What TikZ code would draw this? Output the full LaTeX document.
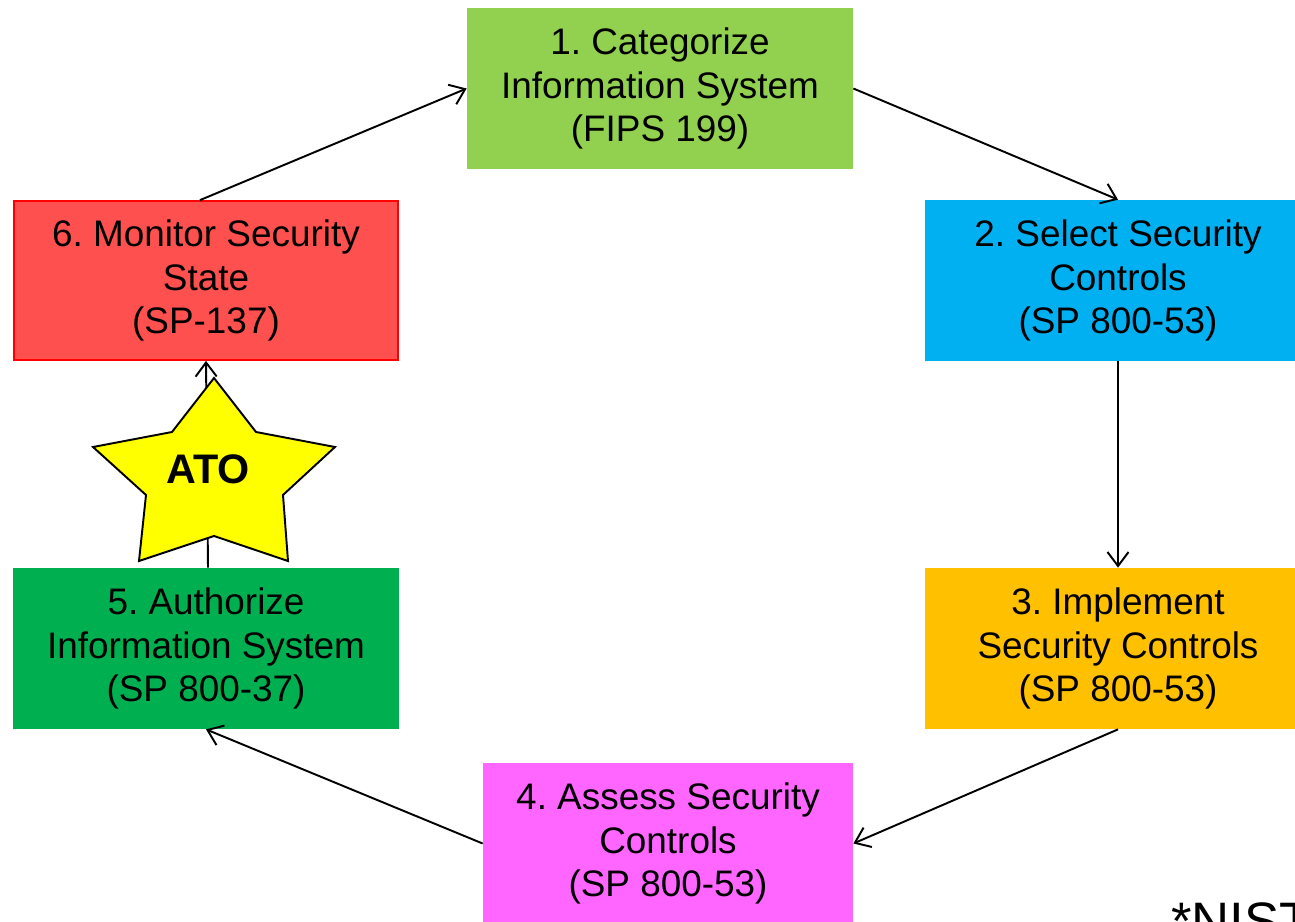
\documentclass[tikz,border=0pt]{standalone}
\usepackage{fontspec}
\setmainfont{Liberation Sans}
\usetikzlibrary{arrows.meta}
\frenchspacing
\definecolor{stepgreen}{HTML}{92D050}
\definecolor{stepblue}{HTML}{00B0F0}
\definecolor{steporange}{HTML}{FFC000}
\definecolor{steppink}{HTML}{FF66FF}
\definecolor{stepdkgreen}{HTML}{00B050}
\definecolor{stepred}{HTML}{FF5050}
\definecolor{staryellow}{HTML}{FFFF00}
\tikzset{
  stepbox/.style={rectangle, minimum width=7.72cm, minimum height=3.22cm,
    inner sep=0pt, align=center, font=\fontsize{21}{25}\selectfont},
  flow/.style={draw=black, line width=1.1pt,
    -{Straight Barb[length=8pt,width=12pt,line width=1.1pt]}},
}
\begin{document}
\begin{tikzpicture}
\clip (0,0) rectangle (25.9,-18.42);
\fill[white] (0,0) rectangle (25.9,-18.42);

\node[stepbox, fill=stepgreen] (s1) at (13.2,-1.77)
  {1. Categorize\\Information System\\(FIPS 199)};
\node[stepbox, fill=stepblue] (s2) at (22.36,-5.61)
  {2. Select Security\\Controls\\(SP 800-53)};
\node[stepbox, fill=steporange] (s3) at (22.36,-12.97)
  {3. Implement\\Security Controls\\(SP 800-53)};
\node[stepbox, fill=steppink, minimum width=7.4cm] (s4) at (13.36,-16.87)
  {4. Assess Security\\Controls\\(SP 800-53)};
\node[stepbox, fill=stepdkgreen] (s5) at (4.12,-12.97)
  {5. Authorize\\Information System\\(SP 800-37)};
\node[stepbox, fill=stepred, draw=red, line width=1pt, minimum width=7.68cm, minimum height=3.18cm] (s6) at (4.12,-5.61)
  {6. Monitor Security\\State\\(SP-137)};

\draw[flow] ([xshift=-0.12cm]s6.north) -- (s1.west);
\draw[flow] (s1.east) -- (s2.north);
\draw[flow] (s2.south) -- (s3.north);
\draw[flow] (s3.south) -- (s4.east);
\draw[flow] (s4.west) -- (s5.south);
\draw[flow] ([xshift=0.04cm]s5.north) -- (s6.south);

% ATO star over the authorization arrow
\filldraw[fill=staryellow, draw=black, line width=1.1pt, line join=miter]
  (4.28,-7.56) -- (5.12,-8.64) -- (6.70,-8.94) -- (5.66,-9.90) -- (5.76,-11.22)
  -- (4.28,-10.72) -- (2.78,-11.22) -- (2.92,-9.90) -- (1.86,-8.94)
  -- (3.44,-8.64) -- cycle;
\node[font=\fontsize{23.5}{27}\selectfont\bfseries] (ato) at (4.16,-9.38) {ATO};

\node[anchor=base west, inner sep=0pt, font=\fontsize{30}{34}\selectfont] (nist) at (23.42,-18.78) {*NIST};
\end{tikzpicture}
\end{document}
